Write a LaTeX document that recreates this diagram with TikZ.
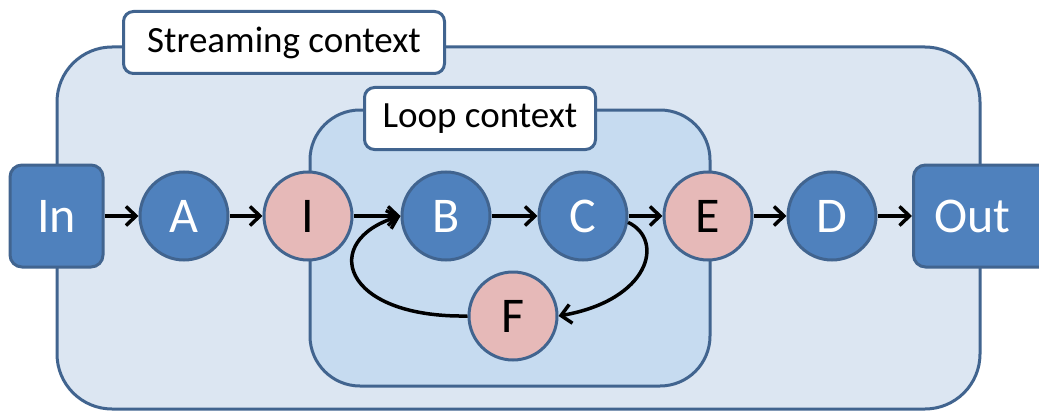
\documentclass[tikz,border=0pt]{standalone}
\usepackage{fontspec}
\setmainfont{Carlito}
\usetikzlibrary{arrows.meta}
\definecolor{edgeblue}{HTML}{41648F}
\definecolor{outerfill}{HTML}{DCE6F2}
\definecolor{loopfill}{HTML}{C6DBF0}
\definecolor{nodeblue}{HTML}{4F81BD}
\definecolor{nodepink}{HTML}{E6B9B8}
\tikzset{
  ctx/.style={draw=edgeblue, line width=3pt},
  lbl/.style={draw=edgeblue, line width=3pt, fill=white, rounded corners=10pt, anchor=north west, inner sep=0pt, font=\fontsize{37}{40}\selectfont, text=black},
  bnode/.style={circle, draw=edgeblue, line width=3pt, fill=nodeblue, minimum size=88pt, inner sep=0pt, text=white, font=\fontsize{50}{52}\selectfont},
  pnode/.style={circle, draw=edgeblue, line width=3pt, fill=nodepink, minimum size=88pt, inner sep=0pt, text=black, font=\fontsize{50}{52}\selectfont},
  iobox/.style={draw=edgeblue, line width=3pt, fill=nodeblue, rounded corners=12pt, inner sep=0pt, text=white, font=\fontsize{50}{52}\selectfont},
  arr/.style={line width=3.5pt, black, -{Straight Barb[length=10pt,width=19pt,line width=3.5pt]}}
}
\begin{document}
\begin{tikzpicture}[x=1pt,y=-1pt]
\useasboundingbox (0,0) rectangle (1039,412);
% streaming context
\draw[ctx, fill=outerfill, rounded corners=55pt] (57,47) rectangle (980,409);
\node[lbl, minimum width=321pt, minimum height=62pt] (slabel) at (122,10) {Streaming context};
% loop context
\draw[ctx, fill=loopfill, rounded corners=50pt] (310,110) rectangle (710,386);
\node[lbl, minimum width=231pt, minimum height=62pt] (llabel) at (363,86) {Loop context};
% nodes
\node[iobox, minimum width=93pt, minimum height=102pt] (in) at (56.5,216) {In};
\node[iobox, minimum width=140pt, minimum height=102pt, anchor=west] (out) at (912,216) {\hspace*{-22pt}Out};
\node[bnode] (A) at (184,216) {A};
\node[pnode] (I) at (308,216) {I};
\node[bnode] (B) at (446,216) {B};
\node[bnode] (C) at (583,216) {C};
\node[pnode] (E) at (708,216) {E};
\node[bnode] (D) at (832,216) {D};
\node[pnode] (F) at (513,316) {F};
% arrows
\draw[arr] (in) -- (A);
\draw[arr] (A) -- (I);
\draw[arr] (I) -- (B);
\draw[arr] (B) -- (C);
\draw[arr] (C) -- (E);
\draw[arr] (E) -- (D);
\draw[arr] (D) -- (out);
\draw[arr] (F.west) .. controls (340,318) and (320,240) .. (B.west);
\draw[arr] (C.-8) .. controls (665,240) and (650,300) .. (F.east);
\end{tikzpicture}
\end{document}
